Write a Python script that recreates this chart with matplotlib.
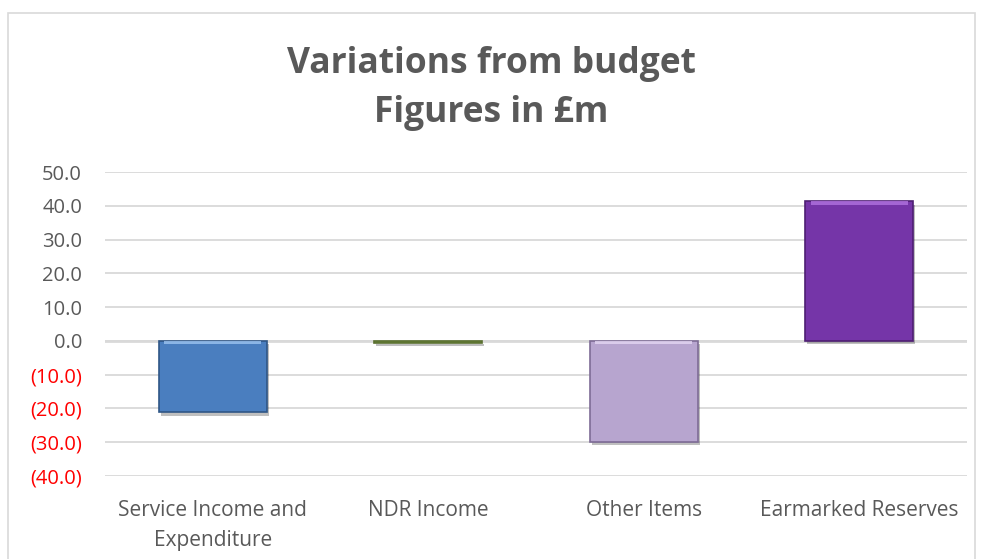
import matplotlib
matplotlib.use("Agg")
import matplotlib.pyplot as plt
import matplotlib.patheffects as pe
from matplotlib.patches import Rectangle

categories = ["Service Income and\nExpenditure", "NDR Income", "Other Items", "Earmarked Reserves"]
values = [-21.2, -0.5, -29.8, 41.3]
colors = ["#4A7EBF", "#77933C", "#B7A5CF", "#7535A8"]
edges = ["#2F5686", "#5A7030", "#7E6C96", "#4E1F73"]
highlights = ["#9CC3F0", "#A6C46A", "#E3D6F3", "#B173E0"]
yticks = [-40, -30, -20, -10, 0, 10, 20, 30, 40, 50]

plt.rcParams['font.family'] = ['Open Sans', 'DejaVu Sans']

fig = plt.figure(figsize=(9.82, 5.59), dpi=100)
fig.patches.append(Rectangle((8/982, -0.01), (975-8)/982, 1 - 13/559 + 0.01,
                             transform=fig.transFigure, fill=False,
                             edgecolor="#D9D9D9", linewidth=1.2))
ax = fig.add_axes([105/982, 1-476/559, (967-105)/982, (476-172)/559])

x = list(range(len(categories)))
width = 0.5
shadow = [pe.SimplePatchShadow(offset=(1.5, -2.5), shadow_rgbFace="#000000", alpha=0.25), pe.Normal()]
bars = ax.bar(x, values, width=width, color=colors, edgecolor=edges, linewidth=1.2, zorder=3)
for b in bars:
    b.set_path_effects(shadow)
# bevel highlight strip along the top edge of each bar
for xi, v, hc in zip(x, values, highlights):
    if abs(v) > 2:
        top = max(v, 0)
        ax.bar(xi, -1.0, bottom=top, width=width * 0.9, color=hc, linewidth=0, zorder=4, alpha=0.8)

ax.set_xlim(-0.5, len(categories) - 0.5)
ax.set_ylim(-40, 50)
ax.set_yticks(yticks)
ax.set_yticklabels([f"{v:.1f}" if v >= 0 else f"({abs(v):.1f})" for v in yticks])
for lab, v in zip(ax.get_yticklabels(), yticks):
    lab.set_color("#595959" if v >= 0 else "#FF0000")
ax.tick_params(axis='y', labelsize=14.5, length=0, pad=16.5)
ax.set_xticks(x)
ax.set_xticklabels(categories, color="#595959", fontsize=15, linespacing=1.6)
ax.tick_params(axis='x', length=0, pad=17)
ax.grid(axis='y', color="#D9D9D9", linewidth=1.3, zorder=0)
ax.axhline(0, color="#D9D9D9", linewidth=2, zorder=1)
for s in ax.spines.values():
    s.set_visible(False)

fig.text(0.5, 1-64/559, "Variations from budget", ha="center", va="center",
         fontsize=25.5, fontweight="bold", color="#595959")
fig.text(0.5, 1-113/559, "Figures in £m", ha="center", va="center",
         fontsize=25.5, fontweight="bold", color="#595959")

fig.savefig("out.png", dpi=100)
